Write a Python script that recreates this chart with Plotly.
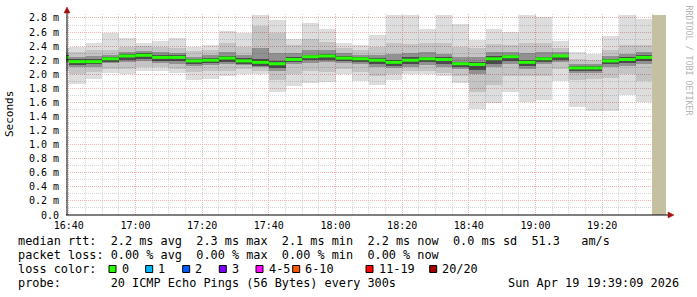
import plotly.graph_objects as go
import pandas as pd

# ---------------- data ----------------
# 5-minute intervals, first one (16:35) is partially outside the 3 h window
bar_starts = pd.date_range("2026-04-19 16:35", periods=36, freq="5min")

hi  = [2.38, 2.39, 2.45, 2.59, 2.52, 2.44, 2.47, 2.51, 2.39, 2.42,
       2.61, 2.59, 2.84, 2.77, 2.50, 2.73, 2.64, 2.44, 2.42,
       2.56, 2.84, 2.84, 2.64, 2.84, 2.71, 2.49, 2.65, 2.60,
       2.84, 2.82, 2.47, 2.31, 2.29, 2.54, 2.84, 2.78]
q90 = [2.32, 2.31, 2.34, 2.35, 2.39, 2.40, 2.39, 2.38, 2.33, 2.34,
       2.44, 2.39, 2.68, 2.58, 2.41, 2.50, 2.46, 2.38, 2.34,
       2.39, 2.45, 2.43, 2.44, 2.44, 2.39, 2.38, 2.43, 2.41,
       2.44, 2.44, 2.37, 2.22, 2.20, 2.34, 2.42, 2.42]
q75 = [2.28, 2.25, 2.26, 2.28, 2.31, 2.33, 2.31, 2.30, 2.25, 2.27,
       2.31, 2.28, 2.38, 2.30, 2.30, 2.34, 2.34, 2.30, 2.28,
       2.28, 2.29, 2.30, 2.31, 2.29, 2.24, 2.24, 2.31, 2.32,
       2.30, 2.31, 2.31, 2.15, 2.14, 2.26, 2.29, 2.31]
q60 = [2.27, 2.22, 2.22, 2.25, 2.29, 2.30, 2.27, 2.27, 2.22, 2.23,
       2.26, 2.23, 2.22, 2.19, 2.25, 2.28, 2.29, 2.26, 2.25,
       2.23, 2.21, 2.24, 2.25, 2.24, 2.18, 2.18, 2.26, 2.28,
       2.21, 2.25, 2.28, 2.12, 2.12, 2.22, 2.24, 2.27]
med = [2.24, 2.18, 2.18, 2.22, 2.26, 2.27, 2.24, 2.24, 2.19, 2.20,
       2.23, 2.19, 2.17, 2.15, 2.21, 2.25, 2.26, 2.23, 2.22,
       2.20, 2.17, 2.20, 2.22, 2.21, 2.15, 2.14, 2.22, 2.25,
       2.17, 2.22, 2.26, 2.09, 2.09, 2.19, 2.21, 2.24]
q40 = [2.20, 2.13, 2.14, 2.18, 2.21, 2.22, 2.19, 2.19, 2.15, 2.16,
       2.18, 2.15, 2.12, 2.09, 2.17, 2.20, 2.21, 2.19, 2.17,
       2.14, 2.12, 2.15, 2.17, 2.15, 2.10, 2.06, 2.15, 2.19,
       2.12, 2.18, 2.21, 2.05, 2.05, 2.14, 2.16, 2.19]
q25 = [2.18, 2.10, 2.11, 2.16, 2.18, 2.19, 2.16, 2.15, 2.12, 2.13,
       2.15, 2.13, 2.10, 2.05, 2.14, 2.16, 2.17, 2.16, 2.14,
       2.10, 2.09, 2.11, 2.13, 2.11, 2.07, 2.00, 2.10, 2.14,
       2.08, 2.15, 2.17, 2.02, 2.02, 2.10, 2.12, 2.14]
q10 = [2.12, 2.00, 2.03, 2.08, 2.08, 2.10, 2.10, 2.07, 2.03, 2.04,
       2.05, 2.07, 2.05, 1.92, 2.01, 2.04, 2.03, 2.07, 2.03,
       1.98, 2.00, 2.04, 2.05, 2.02, 1.97, 1.75, 1.85, 1.98,
       1.98, 1.98, 2.07, 1.92, 1.93, 1.95, 2.00, 1.90]
lo  = [2.05, 1.86, 1.93, 2.02, 2.00, 2.04, 2.05, 2.02, 1.92, 1.94,
       1.97, 2.01, 2.01, 1.75, 1.83, 1.88, 1.89, 2.00, 1.90,
       1.85, 1.92, 2.00, 2.00, 1.97, 1.87, 1.51, 1.59, 1.75,
       1.61, 1.63, 1.91, 1.53, 1.48, 1.48, 1.70, 1.61]

unknown_start = "2026-04-19 19:35:00"
unknown_end = "2026-04-19 19:39:09"
unknown_top = 2.84

x_start = "2026-04-19 16:39:09"
x_end = "2026-04-19 19:39:09"

y_tickvals = [0.0, 0.2, 0.4, 0.6, 0.8, 1.0, 1.2, 1.4, 1.6, 1.8, 2.0, 2.2, 2.4, 2.6, 2.8]
y_ticktext = ["0.0", "0.2 m", "0.4 m", "0.6 m", "0.8 m", "1.0 m", "1.2 m", "1.4 m",
              "1.6 m", "1.8 m", "2.0 m", "2.2 m", "2.4 m", "2.6 m", "2.8 m"]

stat_lines = [
    "median rtt:  2.2 ms avg  2.3 ms max  2.1 ms min  2.2 ms now  0.0 ms sd  51.3   am/s",
    "packet loss: 0.00 % avg  0.00 % max  0.00 % min  0.00 % now",
    "loss color:",
    "probe:       20 ICMP Echo Pings (56 Bytes) every 300s",
]
timestamp = "Sun Apr 19 19:39:09 2026"
loss_labels = ["0", "1", "2", "3", "4-5", "6-10", "11-19", "20/20"]
loss_colors = ["#26ff00", "#00b8ff", "#0059ff", "#7e00ff", "#ff00ff", "#ff5500", "#ff0000", "#a10000"]

# ---------------- layout helpers ----------------
W, H = 697, 297
L, R, T, B = 66, 31, 14, 82
PW, PH = W - L - R, H - T - B
Y0 = H - B


def px_x(p):
    return (p - L) / PW


def px_y(p):
    return (Y0 - p) / PH


MONO = "DejaVu Sans Mono"
starts = [t.strftime("%Y-%m-%d %H:%M:%S") for t in bar_starts]
ends = [(t + pd.Timedelta(minutes=5)).strftime("%Y-%m-%d %H:%M:%S") for t in bar_starts]
BW = 300000  # 5 min in ms

fig = go.Figure()

layers = [
    (lo, hi, "rgba(0,0,0,0.133)"),
    (q10, q90, "rgba(0,0,0,0.11)"),
    (q25, q75, "rgba(0,0,0,0.26)"),
    (q40, q60, "rgba(0,0,0,0.48)"),
]
for low, high, col in layers:
    fig.add_trace(go.Bar(
        x=starts, y=[h - l for h, l in zip(high, low)], base=low,
        width=BW, offset=0, marker=dict(color=col, line=dict(width=0)),
        showlegend=False, hoverinfo="skip"))

# unknown (no data yet) area
u_w = (pd.Timestamp(unknown_end) - pd.Timestamp(unknown_start)).total_seconds() * 1000
fig.add_trace(go.Bar(x=[unknown_start], y=[unknown_top], base=[0], width=u_w, offset=0,
                     marker=dict(color="#c3c1a1", line=dict(width=0)),
                     showlegend=False, hoverinfo="skip"))

# median line
mx, my = [], []
for s, e, m in zip(starts, ends, med):
    mx += [s, e, None]
    my += [m, m, None]
fig.add_trace(go.Scatter(x=mx, y=my, mode="lines", line=dict(color="#26ff00", width=3),
                         showlegend=False, hoverinfo="skip"))

major_grid = "#ecb4b4"
minor_grid = "#d6d6d6"

fig.update_layout(
    width=W, height=H, margin=dict(l=L, r=R, t=T, b=B, pad=0),
    paper_bgcolor="white", plot_bgcolor="white",
    barmode="overlay", bargap=0, showlegend=False,
    font=dict(family=MONO, size=10, color="#000"),
    xaxis=dict(
        type="date", range=[x_start, x_end], tickmode="linear",
        tick0="2026-04-19 16:40", dtick=1200000, tickformat="%H:%M",
        showgrid=True, gridcolor=major_grid, griddash="1px,1px", gridwidth=1,
        minor=dict(tickmode="linear", tick0="2026-04-19 16:40", dtick=BW, showgrid=True,
                   gridcolor=minor_grid, griddash="1px,1px", gridwidth=1),
        zeroline=False, showline=False, ticks="", ticklabelstandoff=3,
        tickfont=dict(family=MONO, size=10, color="#000"),
    ),
    yaxis=dict(
        range=[0, PH / 70.36], tickmode="array", tickvals=y_tickvals, ticktext=y_ticktext,
        showgrid=True, gridcolor=major_grid, griddash="1px,1px", gridwidth=1,
        minor=dict(tickmode="linear", tick0=0, dtick=0.1, showgrid=True,
                   gridcolor=minor_grid, griddash="1px,1px", gridwidth=1),
        zeroline=False, showline=False, ticks="", ticklabelstandoff=6,
        tickfont=dict(family=MONO, size=10, color="#000"),
    ),
)

shapes = []
# axes lines
shapes.append(dict(type="line", xref="paper", yref="paper", x0=px_x(66), x1=px_x(668),
                   y0=px_y(215), y1=px_y(215), line=dict(color="#000", width=1), layer="above"))
shapes.append(dict(type="line", xref="paper", yref="paper", x0=px_x(67), x1=px_x(67),
                   y0=px_y(215), y1=px_y(12), line=dict(color="#000", width=1), layer="above"))
# arrows
shapes.append(dict(type="path", xref="paper", yref="paper",
                   path=f"M {px_x(668)} {px_y(212)} L {px_x(674)} {px_y(215)} L {px_x(668)} {px_y(218)} Z",
                   fillcolor="#a01010", line=dict(color="#a01010", width=0.5), layer="above"))
shapes.append(dict(type="path", xref="paper", yref="paper",
                   path=f"M {px_x(64)} {px_y(13)} L {px_x(67)} {px_y(7)} L {px_x(70)} {px_y(13)} Z",
                   fillcolor="#a01010", line=dict(color="#a01010", width=0.5), layer="above"))

sq_left = [109, 145.7, 182.7, 219.3, 256, 292.7, 366, 429.7]
annotations = []
for sl, col, lab in zip(sq_left, loss_colors, loss_labels):
    shapes.append(dict(type="rect", xref="paper", yref="paper",
                       x0=px_x(sl), x1=px_x(sl + 7), y0=px_y(265.5), y1=px_y(272.5),
                       fillcolor=col, line=dict(color="#000", width=1), layer="above"))
    annotations.append(dict(text=lab, xref="paper", yref="paper", x=px_x(sl + 10.5), y=px_y(269),
                            xanchor="left", yanchor="middle", showarrow=False,
                            font=dict(family=MONO, size=11.85, color="#000")))

line_y = [241, 255, 269, 283]
for txt, yy in zip(stat_lines, line_y):
    annotations.append(dict(text=txt.replace(" ", "\u00a0"), xref="paper", yref="paper",
                            x=px_x(15.5), y=px_y(yy), xanchor="left", yanchor="middle",
                            showarrow=False, font=dict(family=MONO, size=11.85, color="#000")))
annotations.append(dict(text=timestamp.replace(" ", "\u00a0"), xref="paper", yref="paper",
                        x=px_x(681), y=px_y(283), xanchor="right", yanchor="middle",
                        showarrow=False, font=dict(family=MONO, size=11.85, color="#000")))
annotations.append(dict(text="Seconds", xref="paper", yref="paper", x=px_x(10), y=px_y(114),
                        xanchor="center", yanchor="middle", textangle=-90, showarrow=False,
                        font=dict(family=MONO, size=11, color="#000")))
annotations.append(dict(text="RRDTOOL\u00a0/\u00a0TOBI\u00a0OETIKER", xref="paper", yref="paper",
                        x=px_x(688.5), y=px_y(60), xanchor="center", yanchor="middle",
                        textangle=90, showarrow=False,
                        font=dict(family=MONO, size=8.3, color="#b4b4b4")))

fig.update_layout(shapes=shapes, annotations=annotations)
fig.write_html("out.html")
